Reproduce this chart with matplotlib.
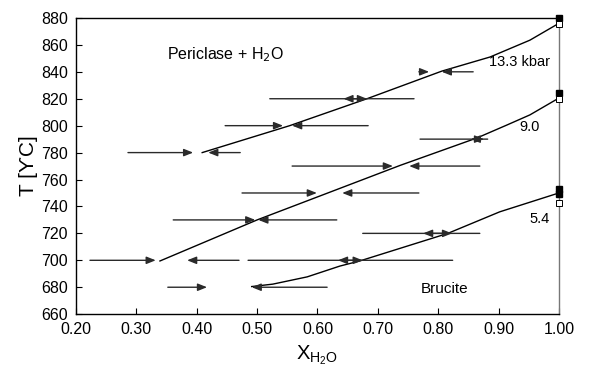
import numpy as np
import matplotlib.pyplot as plt

plt.rcParams['font.family'] = ['Liberation Sans', 'DejaVu Sans']

# Reaction curves (X_H2O, T)
x_133 = [0.409, 0.554, 0.682, 0.806, 0.886, 0.952, 1.0]
t_133 = [780, 800, 820, 840.5, 851, 863.5, 876]

x_90 = [0.339, 0.500, 0.620, 0.737, 0.865, 0.914, 0.952, 1.0]
t_90 = [699.5, 730, 750.5, 770.5, 791, 800.5, 808, 820.5]

x_54 = [0.491, 0.526, 0.583, 0.637, 0.670, 0.816, 0.902, 1.0]
t_54 = [680.5, 682.3, 687.7, 695.7, 699.5, 720, 736, 750]

# Experimental brackets: (T, x start, x end)
arrows = [
    (840, 0.858, 0.806), (840, 0.768, 0.785),
    (820, 0.521, 0.682), (820, 0.760, 0.643),
    (800, 0.447, 0.543), (800, 0.684, 0.558),
    (780, 0.286, 0.394), (780, 0.472, 0.419),
    (790, 0.770, 0.876), (790, 0.882, 0.854),
    (770, 0.558, 0.725), (770, 0.869, 0.752),
    (750, 0.475, 0.599), (750, 0.768, 0.641),
    (730, 0.361, 0.497), (730, 0.632, 0.502),
    (700, 0.223, 0.332), (700, 0.470, 0.384),
    (720, 0.675, 0.823), (720, 0.869, 0.775),
    (700, 0.485, 0.675), (700, 0.824, 0.634),
    (680, 0.352, 0.417), (680, 0.616, 0.491),
]

# End-member (pure H2O) points
filled_t = [880, 824, 753, 749]
open_t = [875.5, 819.5, 742.5]

fig = plt.figure(figsize=(5.99, 3.74), dpi=100)
ax = fig.add_axes([0.127, 0.160, 0.806, 0.792])

ax.plot(x_133, t_133, color='black', lw=1)
ax.plot(x_90, t_90, color='black', lw=1)
ax.plot(x_54, t_54, color='black', lw=1)

for t, x0, x1 in arrows:
    ax.annotate('', xy=(x1, t), xytext=(x0, t),
                arrowprops=dict(arrowstyle='-|>,head_length=0.55,head_width=0.22',
                                color='#2a2a2a', lw=1, shrinkA=0, shrinkB=0))

ax.plot([1.0] * len(filled_t), filled_t, 's', color='black', ms=4.5, clip_on=False, zorder=5)
ax.plot([1.0] * len(open_t), open_t, 's', mfc='white', mec='black', mew=0.7, ms=4.5,
        clip_on=False, zorder=5)

ax.text(0.448, 852.5, 'Periclase + H$_2$O', ha='center', va='center', fontsize=11.5)
ax.text(0.935, 847, '13.3 kbar', ha='center', va='center', fontsize=10.5)
ax.text(0.952, 799, '9.0', ha='center', va='center', fontsize=10.5)
ax.text(0.968, 730.5, '5.4', ha='center', va='center', fontsize=10.5)
ax.text(0.811, 678.5, 'Brucite', ha='center', va='center', fontsize=11)

ax.set_xlim(0.2, 1.0)
ax.set_ylim(660, 880)
ax.set_xticks(np.arange(0.2, 1.01, 0.1))
ax.set_xticklabels(['%.2f' % v for v in np.arange(0.2, 1.01, 0.1)])
ax.set_yticks(range(660, 881, 20))
ax.tick_params(direction='in', labelsize=11.5, length=4, width=0.8, pad=6)
ax.spines['right'].set_color('#777777')
for s in ax.spines.values():
    s.set_linewidth(1)

ax.set_xlabel(r'X$_{\mathregular{H_2O}}$', fontsize=14.5, labelpad=4)
ax.set_ylabel('T [ϒC]', fontsize=15, labelpad=2)

fig.savefig('out.png', dpi=100)
